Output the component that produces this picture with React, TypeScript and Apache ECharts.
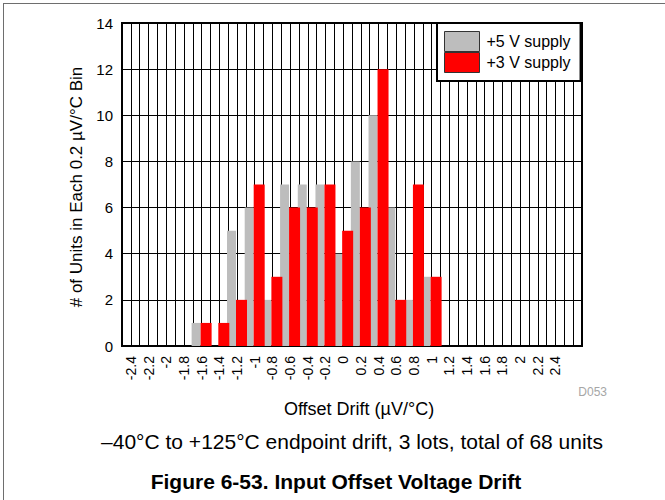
import React, { useEffect, useRef } from "react";
import * as echarts from "echarts";

const categories = ["-2.4", "-2.2", "-2", "-1.8", "-1.6", "-1.4", "-1.2", "-1", "-0.8", "-0.6", "-0.4", "-0.2", "0", "0.2", "0.4", "0.6", "0.8", "1", "1.2", "1.4", "1.6", "1.8", "2", "2.2", "2.4", ""];
const supply5V = [0, 0, 0, 0, 1, 0, 5, 6, 2, 7, 7, 7, 4, 8, 10, 6, 2, 3, 0, 0, 0, 0, 0, 0, 0, 0];
const supply3V = [0, 0, 0, 0, 1, 1, 2, 7, 3, 6, 6, 7, 5, 6, 12, 2, 7, 3, 0, 0, 0, 0, 0, 0, 0, 0];
const seriesNames = ["+5 V supply", "+3 V supply"];
const yTicks = { min: 0, max: 14, interval: 2 };

const FONT = "'Liberation Sans', Arial, Helvetica, sans-serif";

export default function App() {
  const ref = useRef<HTMLDivElement>(null);
  useEffect(() => {
    if (!ref.current) return;
    const chart = echarts.init(ref.current, undefined, { renderer: "svg" });
    chart.setOption({
      animation: false,
      backgroundColor: "#fff",
      textStyle: { fontFamily: FONT },
      grid: {
        left: 122,
        top: 23,
        width: 460,
        height: 323,
        show: true,
        borderColor: "#000",
        borderWidth: 2,
        backgroundColor: "transparent",
      },
      legend: {
        orient: "vertical",
        left: 437,
        top: 23,
        icon: "rect",
        itemWidth: 35,
        itemHeight: 20,
        itemGap: 0,
        padding: [8, 10, 8, 7],
        backgroundColor: "#fff",
        borderColor: "#000",
        borderWidth: 2,
        borderRadius: 0,
        textStyle: { fontSize: 16, color: "#000", fontFamily: FONT, padding: [0, 0, 0, 2] },
        itemStyle: { borderColor: "#333", borderWidth: 1 },
        data: seriesNames,
      },
      xAxis: [
        {
          type: "category",
          data: categories,
          boundaryGap: true,
          axisLine: { show: true, lineStyle: { color: "#000", width: 2 } },
          axisTick: { show: false },
          splitLine: { show: false },
          axisLabel: {
            interval: 0,
            rotate: 90,
            fontSize: 14,
            color: "#000",
            margin: 10,
            fontFamily: FONT,
          },
        },
        {
          type: "value",
          position: "top",
          min: 0,
          max: 52,
          interval: 1,
          axisLine: { show: false },
          axisTick: { show: false },
          axisLabel: { show: false },
          splitLine: { show: true, lineStyle: { color: "#000", width: 1 } },
        },
      ],
      yAxis: {
        type: "value",
        min: yTicks.min,
        max: yTicks.max,
        interval: yTicks.interval,
        axisLine: { show: false },
        axisTick: { show: false },
        axisLabel: { fontSize: 15, color: "#000", margin: 9, fontFamily: FONT },
        splitLine: { show: true, lineStyle: { color: "#000", width: 1 } },
      },
      series: [
        {
          name: seriesNames[0],
          type: "bar",
          xAxisIndex: 0,
          data: supply5V,
          barWidth: 9,
          barGap: "0%",
          itemStyle: { color: "#bdbdbd" },
        },
        {
          name: seriesNames[1],
          type: "bar",
          xAxisIndex: 0,
          data: supply3V,
          barWidth: 11,
          barGap: "0%",
          itemStyle: { color: "#ff0000" },
        },
      ],
      graphic: [
        { type: "line", shape: { x1: 3, y1: 3.5, x2: 665, y2: 3.5 }, style: { stroke: "#6e6e6e", lineWidth: 1 } },
        { type: "line", shape: { x1: 3.5, y1: 3, x2: 3.5, y2: 500 }, style: { stroke: "#6e6e6e", lineWidth: 1 } },
        {
          type: "text",
          x: 76,
          y: 187,
          rotation: Math.PI / 2,
          style: {
            text: "# of Units in Each 0.2 µV/°C Bin",
            fontSize: 17,
            fontFamily: FONT,
            fill: "#000",
            align: "center",
            verticalAlign: "middle",
          },
        },
        {
          type: "text",
          x: 359,
          y: 409,
          style: { text: "Offset Drift (µV/°C)", fontSize: 18, fontFamily: FONT, fill: "#000", align: "center", verticalAlign: "middle" },
        },
        {
          type: "text",
          x: 607,
          y: 392,
          style: { text: "D053", fontSize: 12, fontFamily: FONT, fill: "#a6a6a6", align: "right", verticalAlign: "middle" },
        },
        {
          type: "text",
          x: 352,
          y: 441,
          style: { text: "–40°C to +125°C endpoint drift, 3 lots, total of 68 units", fontSize: 21, fontFamily: FONT, fill: "#000", align: "center", verticalAlign: "middle" },
        },
        {
          type: "text",
          x: 336,
          y: 481,
          style: { text: "Figure 6-53. Input Offset Voltage Drift", fontSize: 21, fontWeight: "bold", fontFamily: FONT, fill: "#000", align: "center", verticalAlign: "middle" },
        },
      ],
    });
    return () => chart.dispose();
  }, []);
  return <div ref={ref} style={{ position: "fixed", left: 0, top: 0, width: 665, height: 500 }} />;
}
